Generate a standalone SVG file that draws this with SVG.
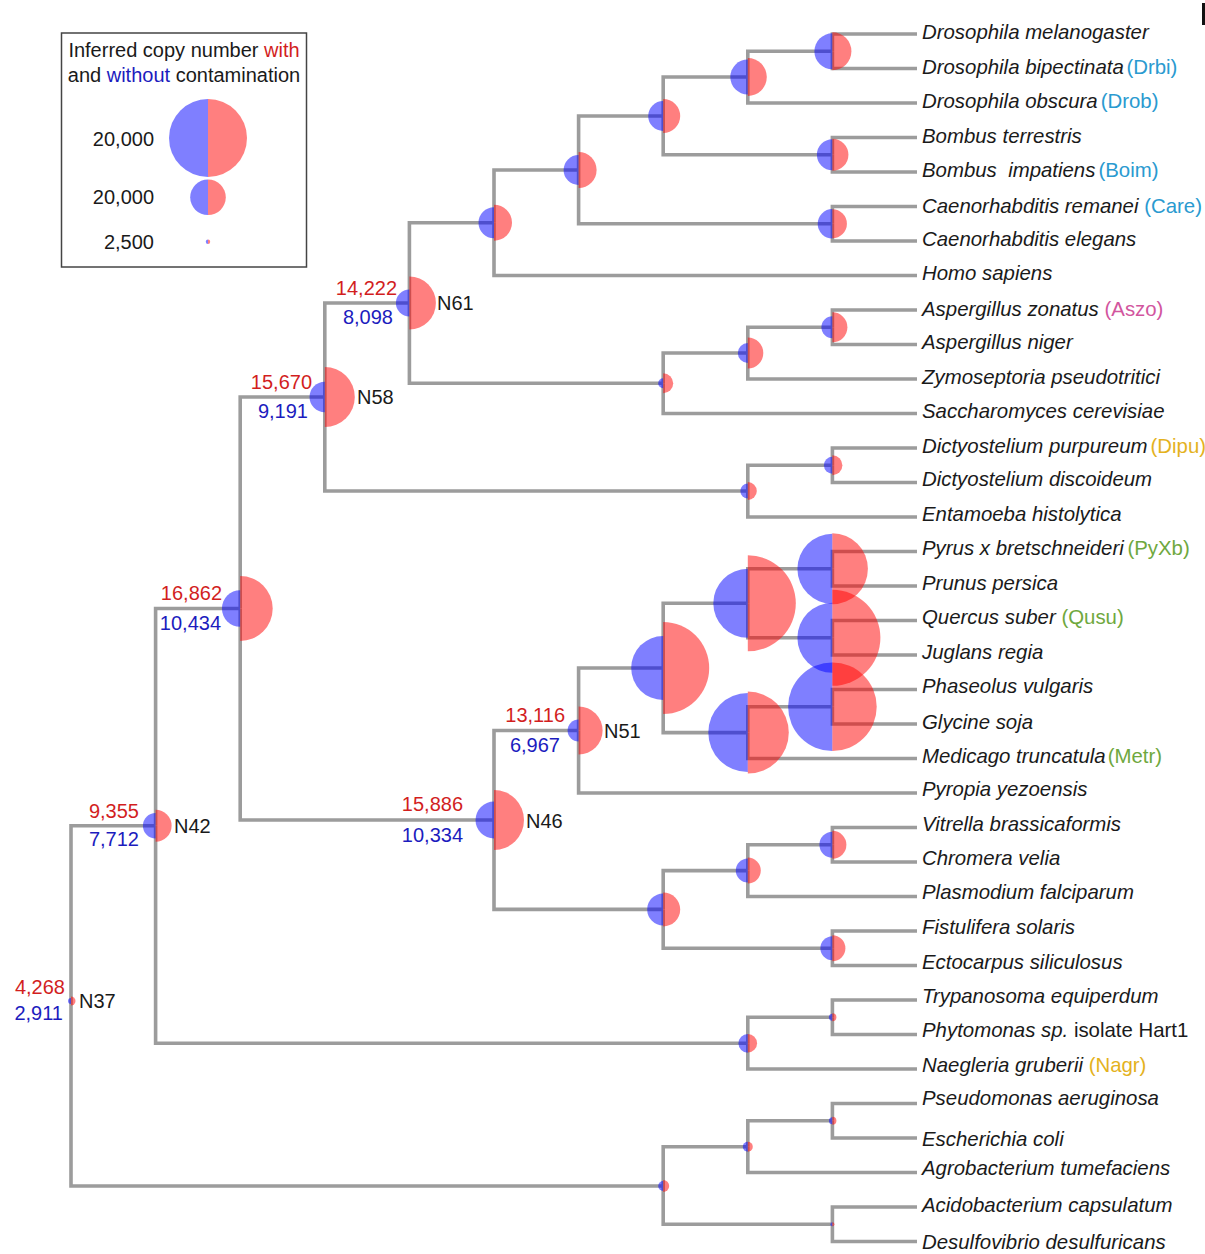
<svg xmlns="http://www.w3.org/2000/svg" width="1205" height="1254" viewBox="0 0 1205 1254">
<style>
text{font-family:"Liberation Sans",Arial,sans-serif;font-size:20px;fill:#1a1a1a}
.lf{font-style:italic;font-size:20.4px}
.rg{font-style:normal}
.nr{fill:#d21e1e;text-anchor:end}
.nb{fill:#1c1cbe;text-anchor:end}
.cb{fill:#2a9ad0}
.cp{fill:#d2559e}
.cy{fill:#e4b21e}
.cg{fill:#6fa83e}
#connectors path{fill:none;stroke:#9c9c9c;stroke-width:3.6;stroke-linejoin:miter}
.b{fill:#0000ff;fill-opacity:0.5}
.r{fill:#ff0000;fill-opacity:0.5}
</style>
<rect width="1205" height="1254" fill="#fff"/>
<rect x="1202" y="3" width="3" height="22" fill="#111"/>

<g id="legend">
<rect x="61.5" y="33" width="245" height="234" fill="none" stroke="#444" stroke-width="1.5"/>
<text x="184" y="57" text-anchor="middle">Inferred copy number <tspan fill="#d21e1e">with</tspan></text>
<text x="184" y="82" text-anchor="middle">and <tspan fill="#1c1cbe">without</tspan> contamination</text>
<text x="154" y="145.5" text-anchor="end">20,000</text>
<text x="154" y="204" text-anchor="end">20,000</text>
<text x="154" y="249" text-anchor="end">2,500</text>
<path class="b" d="M208,99 A39,39 0 0 0 208,177 Z"/><path class="r" d="M208,99 A39,39 0 0 1 208,177 Z"/>
<path class="b" d="M208,179.5 A17.8,17.8 0 0 0 208,215.1 Z"/><path class="r" d="M208,179.5 A17.8,17.8 0 0 1 208,215.1 Z"/>
<path class="b" d="M208,239.5 A2.2,2.2 0 0 0 208,243.9 Z"/><path class="r" d="M208,239.5 A2.2,2.2 0 0 1 208,243.9 Z"/>
</g>

<g id="connectors">
<path d="M71,1001 V825.8 H155.6"/><path d="M71,1001 V1186 H663.2"/>
<path d="M155.6,825.8 V608.5 H240.2"/><path d="M155.6,825.8 V1043.3 H747.8"/>
<path d="M240.2,608.5 V397 H324.8"/><path d="M240.2,608.5 V820 H494"/>
<path d="M324.8,397 V303 H409.4"/><path d="M324.8,397 V491 H747.8"/>
<path d="M409.4,303 V222.7 H494"/><path d="M409.4,303 V383.3 H663.2"/>
<path d="M494,222.7 V170 H578.6"/><path d="M494,222.7 V275.5 H917"/>
<path d="M578.6,170 V116 H663.2"/><path d="M578.6,170 V223.8 H832.4"/>
<path d="M663.2,116 V77 H747.8"/><path d="M663.2,116 V154.8 H832.4"/>
<path d="M747.8,77 V51.3 H832.4"/><path d="M747.8,77 V103 H917"/>
<path d="M832.4,51.3 V34 H917"/><path d="M832.4,51.3 V68.5 H917"/>
<path d="M832.4,154.8 V137.5 H917"/><path d="M832.4,154.8 V172 H917"/>
<path d="M832.4,223.8 V206.5 H917"/><path d="M832.4,223.8 V241 H917"/>
<path d="M663.2,383.3 V353 H747.8"/><path d="M663.2,383.3 V413.5 H917"/>
<path d="M747.8,353 V327.3 H832.4"/><path d="M747.8,353 V379 H917"/>
<path d="M832.4,327.3 V310 H917"/><path d="M832.4,327.3 V344.5 H917"/>
<path d="M747.8,491 V465.3 H832.4"/><path d="M747.8,491 V517 H917"/>
<path d="M832.4,465.3 V448 H917"/><path d="M832.4,465.3 V482.5 H917"/>
<path d="M494,820 V730.5 H578.6"/><path d="M494,820 V909.4 H663.2"/>
<path d="M578.6,730.5 V668 H663.2"/><path d="M578.6,730.5 V793 H917"/>
<path d="M663.2,668 V603.3 H747.8"/><path d="M663.2,668 V732.6 H747.8"/>
<path d="M747.8,603.3 V568.8 H832.4"/><path d="M747.8,603.3 V637.8 H832.4"/>
<path d="M832.4,568.8 V551.5 H917"/><path d="M832.4,568.8 V586 H917"/>
<path d="M832.4,637.8 V620.5 H917"/><path d="M832.4,637.8 V655 H917"/>
<path d="M747.8,732.6 V706.8 H832.4"/><path d="M747.8,732.6 V758.5 H917"/>
<path d="M832.4,706.8 V689.5 H917"/><path d="M832.4,706.8 V724 H917"/>
<path d="M663.2,909.4 V870.6 H747.8"/><path d="M663.2,909.4 V948.3 H832.4"/>
<path d="M747.8,870.6 V844.8 H832.4"/><path d="M747.8,870.6 V896.5 H917"/>
<path d="M832.4,844.8 V827.5 H917"/><path d="M832.4,844.8 V862 H917"/>
<path d="M832.4,948.3 V931 H917"/><path d="M832.4,948.3 V965.5 H917"/>
<path d="M747.8,1043.3 V1017.3 H832.4"/><path d="M747.8,1043.3 V1069 H917"/>
<path d="M832.4,1017.3 V1000 H917"/><path d="M832.4,1017.3 V1034.5 H917"/>
<path d="M663.2,1186 V1146.7 H747.8"/><path d="M663.2,1186 V1224.3 H832.4"/>
<path d="M747.8,1146.7 V1120.8 H832.4"/><path d="M747.8,1146.7 V1172.5 H917"/>
<path d="M832.4,1120.8 V1103.5 H917"/><path d="M832.4,1120.8 V1138 H917"/>
<path d="M832.4,1224.3 V1207 H917"/><path d="M832.4,1224.3 V1241.5 H917"/>
</g>

<g id="N37"><path class="b" d="M71,998 A3,3 0 0 0 71,1004 Z"/><path class="r" d="M71,996.5 A4.5,4.5 0 0 1 71,1005.5 Z"/>
<text class="nr" x="65" y="994">4,268</text><text class="nb" x="63" y="1020">2,911</text><text x="79" y="1008">N37</text></g>
<g id="N42"><path class="b" d="M155.6,813.1 A12.7,12.7 0 0 0 155.6,838.5 Z"/><path class="r" d="M155.6,809.8 A16,16 0 0 1 155.6,841.8 Z"/>
<text class="nr" x="139" y="818">9,355</text><text class="nb" x="139" y="846">7,712</text><text x="174" y="833">N42</text></g>
<g id="N240"><path class="b" d="M240.2,590.2 A18.3,18.3 0 0 0 240.2,626.8 Z"/><path class="r" d="M240.2,576 A32.5,32.5 0 0 1 240.2,641 Z"/>
<text class="nr" x="222" y="600">16,862</text><text class="nb" x="221" y="630">10,434</text></g>
<g id="N58"><path class="b" d="M324.8,381.7 A15.3,15.3 0 0 0 324.8,412.3 Z"/><path class="r" d="M324.8,367 A30,30 0 0 1 324.8,427 Z"/>
<text class="nr" x="312" y="389">15,670</text><text class="nb" x="308" y="418">9,191</text><text x="357" y="404">N58</text></g>
<g id="N61"><path class="b" d="M409.4,289.5 A13.5,13.5 0 0 0 409.4,316.5 Z"/><path class="r" d="M409.4,276.5 A26.5,26.5 0 0 1 409.4,329.5 Z"/>
<text class="nr" x="397" y="295">14,222</text><text class="nb" x="393" y="324">8,098</text><text x="437" y="310">N61</text></g>
<g id="N46"><path class="b" d="M494,801.5 A18.5,18.5 0 0 0 494,838.5 Z"/><path class="r" d="M494,790 A30,30 0 0 1 494,850 Z"/>
<text class="nr" x="463" y="811">15,886</text><text class="nb" x="463" y="842">10,334</text><text x="526" y="828">N46</text></g>
<g id="N51"><path class="b" d="M578.6,719.5 A11,11 0 0 0 578.6,741.5 Z"/><path class="r" d="M578.6,706.5 A24,24 0 0 1 578.6,754.5 Z"/>
<text class="nr" x="565" y="722">13,116</text><text class="nb" x="560" y="752">6,967</text><text x="604" y="738">N51</text></g>

<g id="n494"><path class="b" d="M494,207.2 A15.5,15.5 0 0 0 494,238.2 Z"/><path class="r" d="M494,204.7 A18,18 0 0 1 494,240.7 Z"/></g>
<g id="n578"><path class="b" d="M578.6,155 A15,15 0 0 0 578.6,185 Z"/><path class="r" d="M578.6,152 A18,18 0 0 1 578.6,188 Z"/></g>
<g id="n663a"><path class="b" d="M663.2,101 A15,15 0 0 0 663.2,131 Z"/><path class="r" d="M663.2,99 A17,17 0 0 1 663.2,133 Z"/></g>
<g id="n748a"><path class="b" d="M747.8,59.5 A17.5,17.5 0 0 0 747.8,94.5 Z"/><path class="r" d="M747.8,58 A19,19 0 0 1 747.8,96 Z"/></g>
<g id="n832a"><path class="b" d="M832.4,33.3 A18,18 0 0 0 832.4,69.3 Z"/><path class="r" d="M832.4,32.3 A19,19 0 0 1 832.4,70.3 Z"/></g>
<g id="n832b"><path class="b" d="M832.4,139.3 A15.5,15.5 0 0 0 832.4,170.3 Z"/><path class="r" d="M832.4,138.8 A16,16 0 0 1 832.4,170.8 Z"/></g>
<g id="n832c"><path class="b" d="M832.4,209.1 A14.7,14.7 0 0 0 832.4,238.5 Z"/><path class="r" d="M832.4,209.3 A14.5,14.5 0 0 1 832.4,238.3 Z"/></g>
<g id="n663f"><path class="b" d="M663.2,378.3 A5,5 0 0 0 663.2,388.3 Z"/><path class="r" d="M663.2,373.3 A10,10 0 0 1 663.2,393.3 Z"/></g>
<g id="n748f"><path class="b" d="M747.8,343 A10,10 0 0 0 747.8,363 Z"/><path class="r" d="M747.8,337.5 A15.5,15.5 0 0 1 747.8,368.5 Z"/></g>
<g id="n832f"><path class="b" d="M832.4,316.3 A11,11 0 0 0 832.4,338.3 Z"/><path class="r" d="M832.4,312.3 A15,15 0 0 1 832.4,342.3 Z"/></g>
<g id="n748d"><path class="b" d="M747.8,483.5 A7.5,7.5 0 0 0 747.8,498.5 Z"/><path class="r" d="M747.8,482 A9,9 0 0 1 747.8,500 Z"/></g>
<g id="n832d"><path class="b" d="M832.4,456.8 A8.5,8.5 0 0 0 832.4,473.8 Z"/><path class="r" d="M832.4,455.3 A10,10 0 0 1 832.4,475.3 Z"/></g>
<g id="n663p"><path class="b" d="M663.2,636 A32,32 0 0 0 663.2,700 Z"/><path class="r" d="M663.2,622 A46,46 0 0 1 663.2,714 Z"/></g>
<g id="n748p"><path class="b" d="M747.8,568.8 A34.5,34.5 0 0 0 747.8,637.8 Z"/><path class="r" d="M747.8,555.3 A48,48 0 0 1 747.8,651.3 Z"/></g>
<g id="n748q"><path class="b" d="M747.8,693.1 A39.5,39.5 0 0 0 747.8,772.1 Z"/><path class="r" d="M747.8,691.6 A41,41 0 0 1 747.8,773.6 Z"/></g>
<g id="n832p"><path class="b" d="M832.4,533.8 A35,35 0 0 0 832.4,603.8 Z"/><path class="r" d="M832.4,533.3 A35.5,35.5 0 0 1 832.4,604.3 Z"/></g>
<g id="n832q"><path class="b" d="M832.4,602.8 A35,35 0 0 0 832.4,672.8 Z"/><path class="r" d="M832.4,589.8 A48,48 0 0 1 832.4,685.8 Z"/></g>
<g id="n832r"><path class="b" d="M832.4,662.5 A44.3,44.3 0 0 0 832.4,751.1 Z"/><path class="r" d="M832.4,662.5 A44.3,44.3 0 0 1 832.4,751.1 Z"/></g>
<g id="n663v"><path class="b" d="M663.2,893.4 A16,16 0 0 0 663.2,925.4 Z"/><path class="r" d="M663.2,892.4 A17,17 0 0 1 663.2,926.4 Z"/></g>
<g id="n748v"><path class="b" d="M747.8,858.6 A12,12 0 0 0 747.8,882.6 Z"/><path class="r" d="M747.8,857.6 A13,13 0 0 1 747.8,883.6 Z"/></g>
<g id="n832v"><path class="b" d="M832.4,831.8 A13,13 0 0 0 832.4,857.8 Z"/><path class="r" d="M832.4,830.8 A14,14 0 0 1 832.4,858.8 Z"/></g>
<g id="n832w"><path class="b" d="M832.4,936.3 A12,12 0 0 0 832.4,960.3 Z"/><path class="r" d="M832.4,935.3 A13,13 0 0 1 832.4,961.3 Z"/></g>
<g id="n748n"><path class="b" d="M747.8,1033.9 A9.4,9.4 0 0 0 747.8,1052.7 Z"/><path class="r" d="M747.8,1034 A9.3,9.3 0 0 1 747.8,1052.6 Z"/></g>
<g id="n832n"><path class="b" d="M832.4,1013.8 A3.5,3.5 0 0 0 832.4,1020.8 Z"/><path class="r" d="M832.4,1013.3 A4,4 0 0 1 832.4,1021.3 Z"/></g>
<g id="n663b"><path class="b" d="M663.2,1181 A5,5 0 0 0 663.2,1191 Z"/><path class="r" d="M663.2,1180 A6,6 0 0 1 663.2,1192 Z"/></g>
<g id="n748b"><path class="b" d="M747.8,1141.7 A5,5 0 0 0 747.8,1151.7 Z"/><path class="r" d="M747.8,1141.7 A5,5 0 0 1 747.8,1151.7 Z"/></g>
<g id="n832b2"><path class="b" d="M832.4,1117.3 A3.5,3.5 0 0 0 832.4,1124.3 Z"/><path class="r" d="M832.4,1116.8 A4,4 0 0 1 832.4,1124.8 Z"/></g>
<g id="n832b3"><path class="b" d="M832.4,1222.3 A2,2 0 0 0 832.4,1226.3 Z"/><path class="r" d="M832.4,1222.3 A2,2 0 0 1 832.4,1226.3 Z"/></g>

<g id="leaves">
<text class="lf" x="922" y="39">Drosophila melanogaster</text>
<text class="lf" x="922" y="74">Drosophila bipectinata <tspan class="rg cb" dx="-3">(Drbi)</tspan></text>
<text class="lf" x="922" y="108">Drosophila obscura<tspan class="rg cb" dx="3">(Drob)</tspan></text>
<text class="lf" x="922" y="143">Bombus terrestris</text>
<text class="lf" x="922" y="177" xml:space="preserve">Bombus  impatiens<tspan class="rg cb" dx="3">(Boim)</tspan></text>
<text class="lf" x="922" y="213">Caenorhabditis remanei <tspan class="rg cb">(Care)</tspan></text>
<text class="lf" x="922" y="246">Caenorhabditis elegans</text>
<text class="lf" x="922" y="280">Homo sapiens</text>
<text class="lf" x="922" y="316">Aspergillus zonatus <tspan class="rg cp">(Aszo)</tspan></text>
<text class="lf" x="922" y="349">Aspergillus niger</text>
<text class="lf" x="922" y="384">Zymoseptoria pseudotritici</text>
<text class="lf" x="922" y="418">Saccharomyces cerevisiae</text>
<text class="lf" x="922" y="453">Dictyostelium purpureum<tspan class="rg cy" dx="3">(Dipu)</tspan></text>
<text class="lf" x="922" y="486">Dictyostelium discoideum</text>
<text class="lf" x="922" y="521">Entamoeba histolytica</text>
<text class="lf" x="922" y="555">Pyrus x bretschneideri <tspan class="rg cg" dx="-2">(PyXb)</tspan></text>
<text class="lf" x="922" y="590">Prunus persica</text>
<text class="lf" x="922" y="624">Quercus suber <tspan class="rg cg">(Qusu)</tspan></text>
<text class="lf" x="922" y="659">Juglans regia</text>
<text class="lf" x="922" y="693">Phaseolus vulgaris</text>
<text class="lf" x="922" y="729">Glycine soja</text>
<text class="lf" x="922" y="763">Medicago truncatula<tspan class="rg cg" dx="2">(Metr)</tspan></text>
<text class="lf" x="922" y="796">Pyropia yezoensis</text>
<text class="lf" x="922" y="831">Vitrella brassicaformis</text>
<text class="lf" x="922" y="865">Chromera velia</text>
<text class="lf" x="922" y="899">Plasmodium falciparum</text>
<text class="lf" x="922" y="934">Fistulifera solaris</text>
<text class="lf" x="922" y="969">Ectocarpus siliculosus</text>
<text class="lf" x="922" y="1003">Trypanosoma equiperdum</text>
<text class="lf" x="922" y="1037">Phytomonas sp.<tspan class="rg"> isolate Hart1</tspan></text>
<text class="lf" x="922" y="1072">Naegleria gruberii <tspan class="rg cy">(Nagr)</tspan></text>
<text class="lf" x="922" y="1105">Pseudomonas aeruginosa</text>
<text class="lf" x="922" y="1146">Escherichia coli</text>
<text class="lf" x="922" y="1175">Agrobacterium tumefaciens</text>
<text class="lf" x="922" y="1212">Acidobacterium capsulatum</text>
<text class="lf" x="922" y="1249">Desulfovibrio desulfuricans</text>
</g>
</svg>
